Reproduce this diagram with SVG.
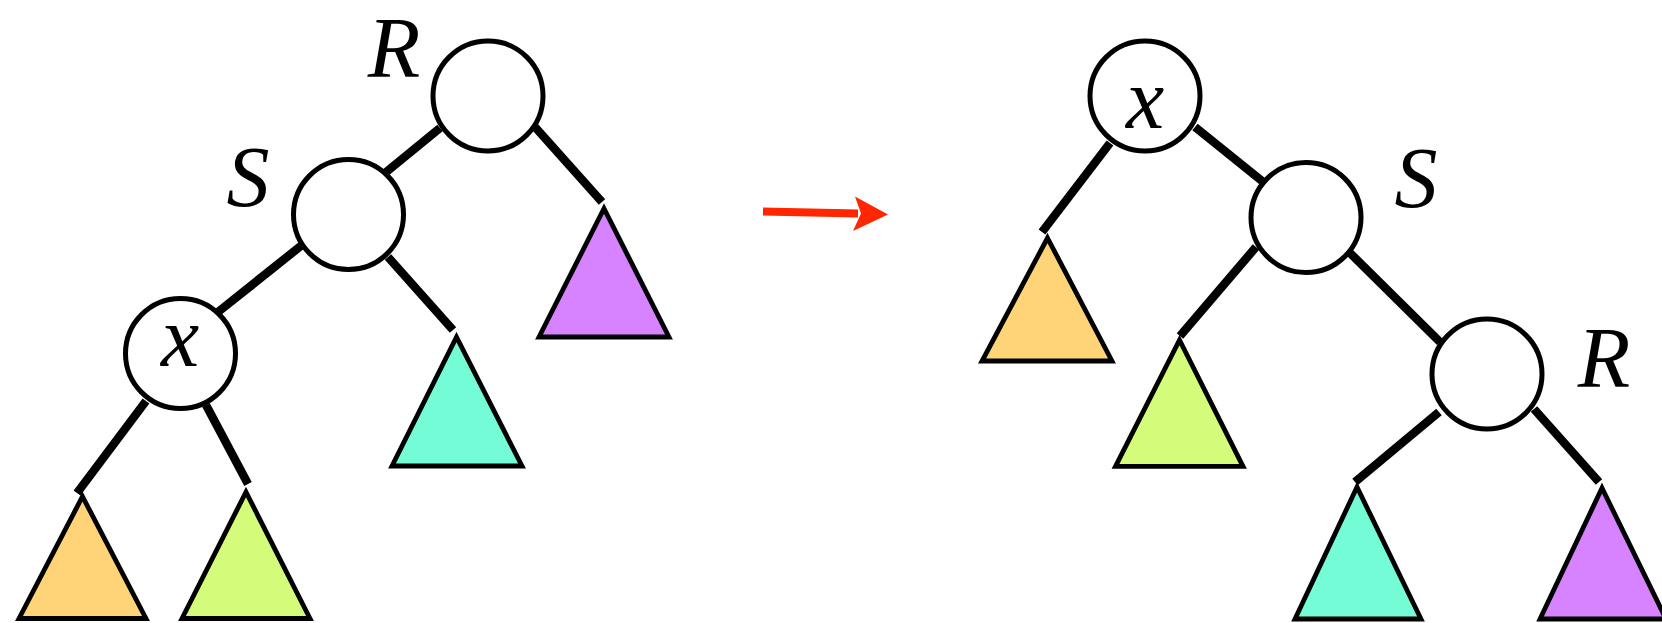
<svg xmlns="http://www.w3.org/2000/svg" width="1662" height="623" viewBox="0 0 1662 623">
<defs>
<style>
.edge{stroke:#000;stroke-width:8.5;stroke-linecap:butt;fill:none}
.node{fill:#fff;stroke:#000;stroke-width:5}
.tri{stroke:#000;stroke-width:4.8;stroke-linejoin:miter}
.orange{fill:#FFD479}
.green{fill:#D4FB79}
.cyan{fill:#73FCD6}
.purple{fill:#D783FF}
.lbl{font-family:"Liberation Serif","DejaVu Serif",serif;font-style:italic;font-size:86px;fill:#000;text-anchor:middle}
</style>
</defs>
<rect width="1662" height="623" fill="#fff"/>
<g id="connectors">
<line class="edge" x1="440" y1="128" x2="385" y2="173"/>
<line class="edge" x1="535" y1="127" x2="602" y2="202"/>
<line class="edge" x1="302" y1="245" x2="218" y2="312"/>
<line class="edge" x1="388" y1="257" x2="453" y2="330"/>
<line class="edge" x1="146" y1="401" x2="77" y2="493"/>
<line class="edge" x1="206" y1="405" x2="248" y2="484"/>
<line class="edge" x1="1110" y1="143" x2="1042" y2="232"/>
<line class="edge" x1="1195" y1="127" x2="1262" y2="181"/>
<line class="edge" x1="1256" y1="247" x2="1180" y2="336"/>
<line class="edge" x1="1350" y1="253" x2="1440" y2="342"/>
<line class="edge" x1="1439" y1="412" x2="1355" y2="482"/>
<line class="edge" x1="1534" y1="409" x2="1599" y2="482"/>
<path d="M763 211.5 L858 213.5" stroke="#FF2600" stroke-width="8" fill="none"/>
<polygon points="888,214.5 855,196.5 861,213.5 853,231" fill="#FF2600"/>
</g>
<g id="left-R"><circle class="node" cx="488" cy="96" r="55"/><text class="lbl" x="394" y="77">R</text></g>
<g id="left-S"><circle class="node" cx="348.5" cy="214.5" r="55"/><text class="lbl" x="248" y="206">S</text></g>
<g id="left-x"><circle class="node" cx="180.5" cy="353.5" r="55"/><text class="lbl" x="180" y="366">x</text></g>
<g id="left-t1"><polygon class="tri orange" points="82.5,496.5 146,618.5 19,618.5"/></g>
<g id="left-t2"><polygon class="tri green" points="246,492 310,618.5 182,618.5"/></g>
<g id="left-t3"><polygon class="tri cyan" points="456.5,337 522,466 392,466"/></g>
<g id="left-t4"><polygon class="tri purple" points="604,208.5 669,337 539,337"/></g>
<g id="right-x"><circle class="node" cx="1145" cy="96" r="55"/><text class="lbl" x="1145" y="128">x</text></g>
<g id="right-S"><circle class="node" cx="1306" cy="217.5" r="55"/><text class="lbl" x="1416" y="207">S</text></g>
<g id="right-R"><circle class="node" cx="1487" cy="374" r="55"/><text class="lbl" x="1604" y="387">R</text></g>
<g id="right-t1"><polygon class="tri orange" points="1047.5,238 1112,361 982,361"/></g>
<g id="right-t2"><polygon class="tri green" points="1179.5,340 1243,466.3 1115.5,466.3"/></g>
<g id="right-t3"><polygon class="tri cyan" points="1357,487 1421,619 1295,619"/></g>
<g id="right-t4"><polygon class="tri purple" points="1602,488 1666,619 1540,619"/></g>
</svg>
